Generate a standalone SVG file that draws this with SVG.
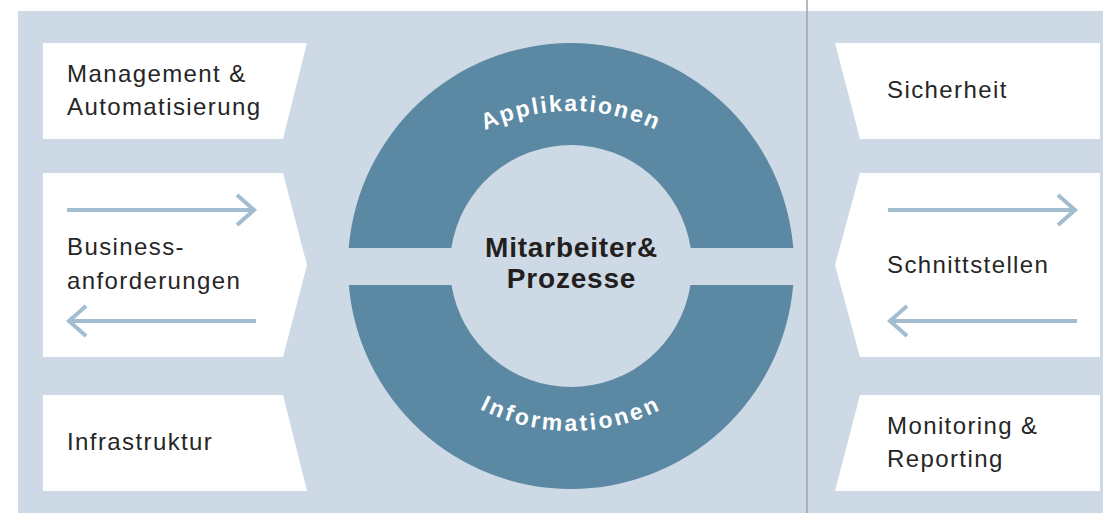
<svg xmlns="http://www.w3.org/2000/svg" width="1103" height="513" viewBox="0 0 1103 513">
<defs>
<style>
.bg{fill:#cdd9e4}
.box{fill:#ffffff}
.lbl{font-family:"Liberation Sans",Arial,sans-serif;font-size:24px;letter-spacing:1.4px;fill:#262626}
.ring{fill:#5b88a2}
.arc{font-family:"Liberation Sans",Arial,sans-serif;font-size:23px;font-weight:bold;fill:#ffffff}
.core{font-family:"Liberation Sans",Arial,sans-serif;font-size:28px;font-weight:bold;letter-spacing:0.8px;fill:#231f20;text-anchor:middle}
.arr{fill:none;stroke:#a3bdd0;stroke-width:4}
</style>
<path id="arcTop" d="M371,311 A200,200 0 0 1 771,311"/>
<path id="arcBot" d="M371,231 A200,200 0 0 0 771,231"/>
</defs>
<rect class="bg" x="18" y="11" width="1085" height="502"/>
<line x1="807" y1="0" x2="807" y2="513" stroke="#9aa3ab" stroke-width="1.5"/>

<g id="management">
<polygon class="box" points="43,43 307,43 283,139 43,139"/>
<text class="lbl" x="67" y="82">Management &amp;</text>
<text class="lbl" x="67" y="115">Automatisierung</text>
</g>
<g id="business">
<polygon class="box" points="43,173 283,173 307,265 283,357 43,357"/>
<text class="lbl" x="67" y="255">Business-</text>
<text class="lbl" x="67" y="289">anforderungen</text>
</g>
<g id="infrastruktur">
<polygon class="box" points="43,395 283,395 307,491 43,491"/>
<text class="lbl" x="67" y="450">Infrastruktur</text>
</g>
<g id="sicherheit">
<polygon class="box" points="835,43 1100,43 1100,139 860,139"/>
<text class="lbl" x="887" y="98">Sicherheit</text>
</g>
<g id="schnittstellen">
<polygon class="box" points="860,173 1100,173 1100,357 860,357 835,265"/>
<text class="lbl" x="887" y="273">Schnittstellen</text>
</g>
<g id="monitoring">
<polygon class="box" points="860,395 1100,395 1100,491 835,491"/>
<text class="lbl" x="887" y="434">Monitoring &amp;</text>
<text class="lbl" x="887" y="467">Reporting</text>
</g>

<g id="applikationen">
<path class="ring" d="M348.73,248 A223,223 0 0 1 793.27,248 L690.65,248 A121,121 0 0 0 451.35,248 Z"/>
<text class="arc" letter-spacing="2"><textPath href="#arcTop" startOffset="50%" text-anchor="middle">Applikationen</textPath></text>
</g>
<g id="informationen">
<path class="ring" d="M348.81,285 A223,223 0 0 0 793.19,285 L690.5,285 A121,121 0 0 1 451.5,285 Z"/>
<text class="arc" letter-spacing="2.8"><textPath href="#arcBot" startOffset="50%" text-anchor="middle">Informationen</textPath></text>
</g>
<g id="mitarbeiter">
<text class="core" x="571.5" y="257">Mitarbeiter&amp;</text>
<text class="core" x="571.5" y="288">Prozesse</text>
</g>

<g id="connectors">
<path class="arr" d="M67,210 H254 M237,195 L254,210 L237,225"/>
<path class="arr" d="M256,321 H69 M86,306 L69,321 L86,336"/>
<path class="arr" d="M888,210 H1075 M1058,195 L1075,210 L1058,225"/>
<path class="arr" d="M1077,321 H890 M907,306 L890,321 L907,336"/>
</g>
</svg>
